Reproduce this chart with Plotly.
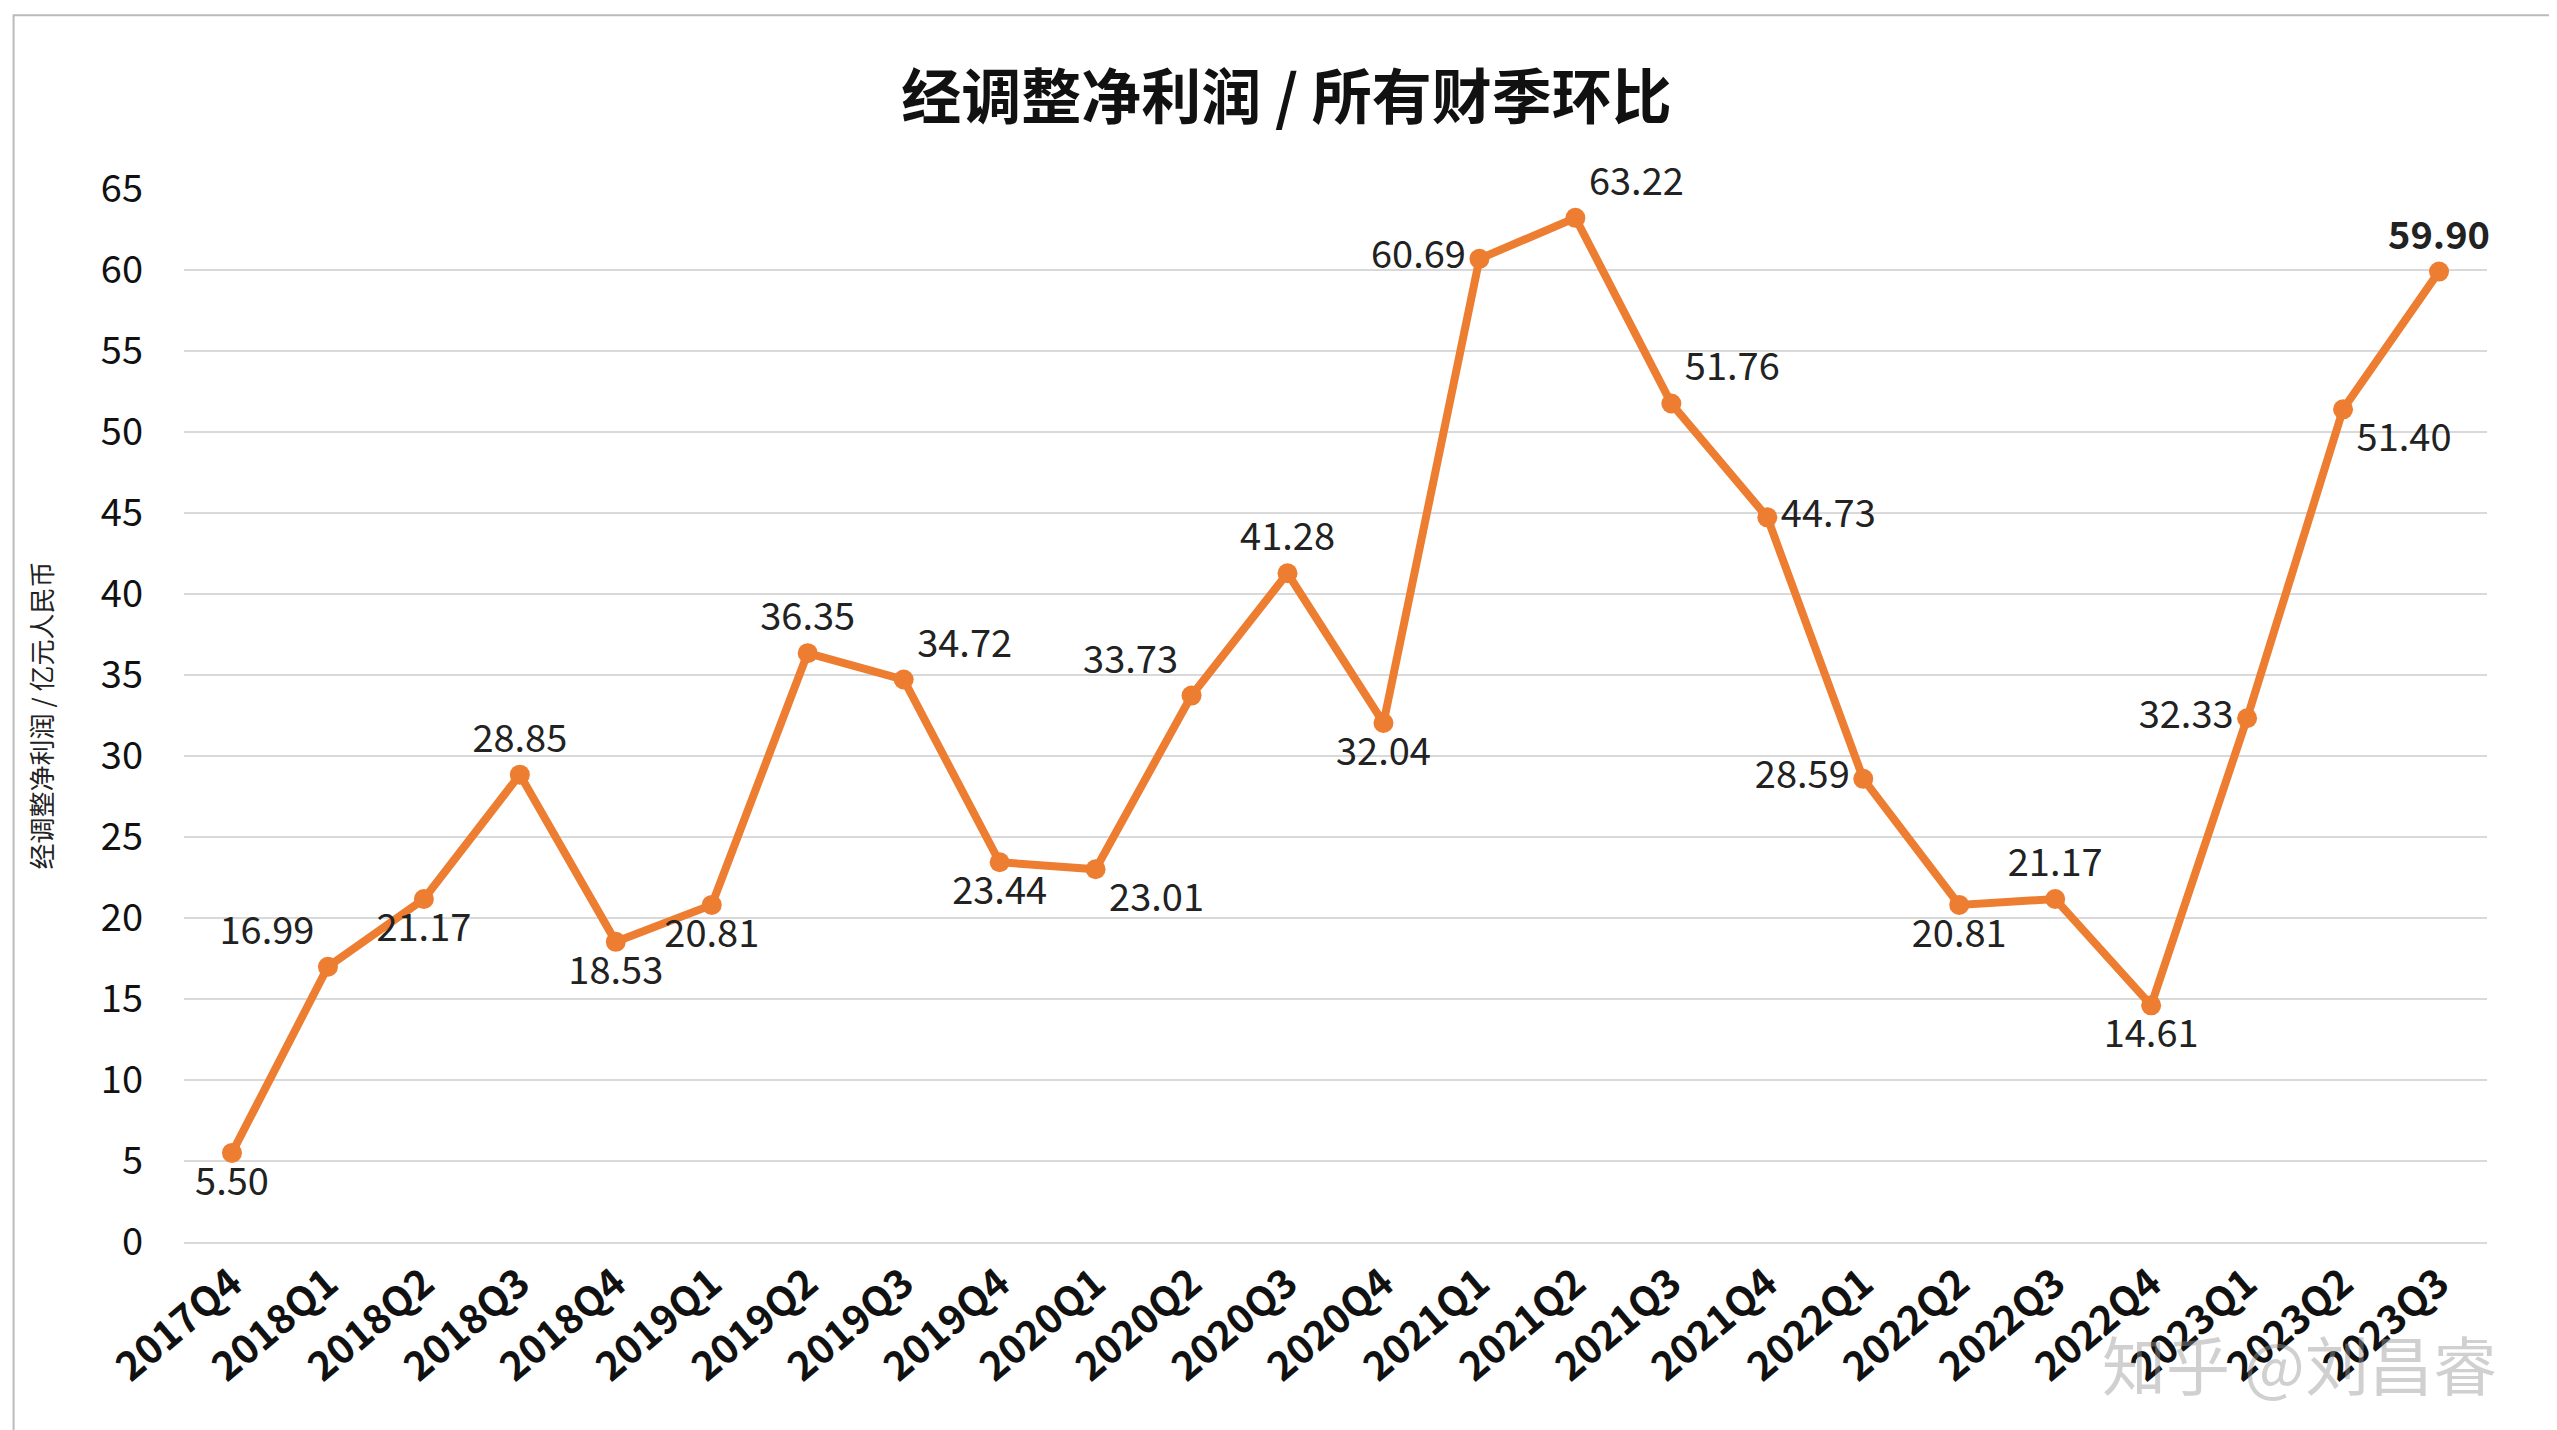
import plotly.graph_objects as go

quarters = ["2017Q4", "2018Q1", "2018Q2", "2018Q3", "2018Q4", "2019Q1", "2019Q2", "2019Q3",
            "2019Q4", "2020Q1", "2020Q2", "2020Q3", "2020Q4", "2021Q1", "2021Q2", "2021Q3",
            "2021Q4", "2022Q1", "2022Q2", "2022Q3", "2022Q4", "2023Q1", "2023Q2", "2023Q3"]
profit = [5.50, 16.99, 21.17, 28.85, 18.53, 20.81, 36.35, 34.72, 23.44, 23.01, 33.73, 41.28,
          32.04, 60.69, 63.22, 51.76, 44.73, 28.59, 20.81, 21.17, 14.61, 32.33, 51.40, 59.90]
label_pos = ["bottom center", "top left", "bottom center", "top center", "bottom center",
             "bottom center", "top center", "top right", "bottom center", "bottom right",
             "top left", "top center", "bottom center", "middle left", "top right", "top right",
             "middle right", "middle left", "bottom center", "top center", "bottom center",
             "middle left", "bottom right", "top center"]

orange = "#ED7D31"
labels = [f"{v:.2f}" for v in profit]
labels[-1] = f"<b>{labels[-1]}</b>"

fig = go.Figure(go.Scatter(
    x=quarters, y=profit, mode="lines+markers+text",
    line=dict(color=orange, width=8),
    marker=dict(color=orange, size=20),
    text=labels, textposition=label_pos,
    textfont=dict(size=38, color="#222", family="Noto Sans CJK SC"),
    cliponaxis=False,
))

fig.update_layout(
    width=2557, height=1430,
    paper_bgcolor="white", plot_bgcolor="white",
    margin=dict(l=176, r=78, t=181, b=196),
    font=dict(family="Noto Sans CJK SC", color="#222"),
    title=dict(text="<b>经调整净利润 / 所有财季环比</b>", x=0.5, xanchor="center",
               y=0.937, yanchor="middle", font=dict(size=60, color="#111")),
    showlegend=False,
    shapes=[dict(type="rect", xref="paper", yref="paper", x0=-0.074, x1=1.03,
                 y0=-0.18, y1=1.165, line=dict(color="#bbb", width=2))],
    annotations=[dict(text="知乎 @刘昌睿", xref="paper", yref="paper", x=1.005, y=-0.16,
                      xanchor="right", yanchor="bottom", showarrow=False,
                      font=dict(size=64, color="rgba(150,150,150,0.45)"))],
)
fig.update_xaxes(range=[-0.5, 23.5], tickangle=-40,
                 tickfont=dict(size=40, color="#111", family="Noto Sans CJK SC"),
                 showgrid=False, showline=True, linecolor="#d9d9d9",
                 linewidth=2, tickprefix="<b>", ticksuffix="</b>")
fig.update_yaxes(range=[0, 65], dtick=5, tickfont=dict(size=38, color="#111"),
                 gridcolor="#d9d9d9", gridwidth=2, zeroline=False, ticklabelstandoff=40,
                 title=dict(text="经调整净利润 / 亿元人民币", font=dict(size=26), standoff=40))

fig.write_html("out.html")
